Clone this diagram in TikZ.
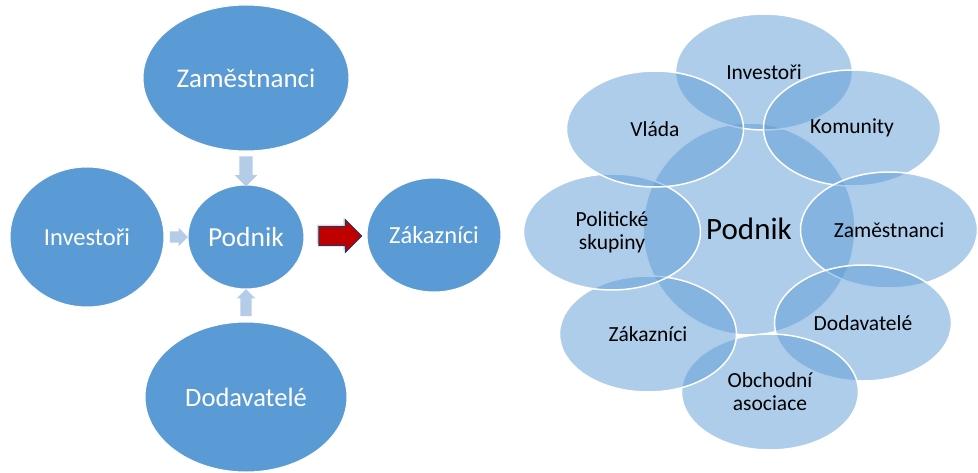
\documentclass[tikz,border=0pt]{standalone}
\usepackage{fontspec}
\setmainfont{Carlito}
\usepackage{tikz}
\usetikzlibrary{shapes.geometric,shapes.arrows,shadows,calc}
\definecolor{officeblue}{HTML}{5B9BD5}
\definecolor{paleblue}{HTML}{B4CCE8}
\definecolor{arrowred}{HTML}{C00000}
\definecolor{arrownavy}{HTML}{1F3864}
\tikzstyle{bubble}=[ellipse,fill=officeblue,draw=white,line width=1pt,inner sep=0pt,text=white]
\tikzstyle{petal}=[ellipse,fill=officeblue,fill opacity=0.5,text opacity=1,draw=white,line width=1.5pt,inner sep=0pt,minimum width=177pt,minimum height=116pt,text=black,align=center,font=\fontsize{21.5}{23}\selectfont]
\tikzstyle{core}=[petal,circle,minimum size=212pt,font=\fontsize{31}{36}\selectfont]
\tikzstyle{flow}=[single arrow,fill=paleblue,inner xsep=0pt]
\tikzstyle{push}=[single arrow,fill=arrowred,draw=arrownavy,line width=1pt,inner xsep=0pt,drop shadow={shadow xshift=-2pt,shadow yshift=2pt,opacity=0.3}]

\begin{document}
\begin{tikzpicture}[x=1pt,y=-1pt]
    \useasboundingbox (0,0) rectangle (978,472);
    % Left: the firm and the groups around it
    % First we draw the ellipses
    \foreach \pos/\name/\text/\w/\h/\fs in {{(246,78)/zam/Zaměstnanci/206/146/27}, {(87,237)/inv/Investoři/154/140/24.5},
        {(246,237)/pod/Podnik/116/104/27.5}, {(434,235)/zak/Zákazníci/134/114/24.5}, {(246,397)/dod/Dodavatelé/202/150/26.5}}
        \node[bubble,minimum width=\w pt,minimum height=\h pt,font=\fontsize{\fs}{30}\selectfont] (\name) at \pos {\text};

    % Then the block arrows between them
    \node[flow,rotate=-90,minimum height=30pt,inner ysep=6.5pt,single arrow head extend=4.5pt] (zam-pod) at ($(zam.south)!0.5!(pod.north)$) {};
    \node[flow,minimum height=18pt,inner ysep=5.5pt,single arrow head extend=3.5pt] (inv-pod) at ($(inv.east)!0.5!(pod.west)$) {};
    \node[flow,rotate=90,minimum height=27pt,inner ysep=5.5pt,single arrow head extend=3.5pt] (dod-pod) at ($(dod.north)!0.5!(pod.south)$) {};
    \node[push,minimum height=43pt,inner ysep=9pt,single arrow head extend=7pt] (pod-zak) at ($(pod.east)!0.5!(zak.west)$) {};

    % Right: the firm in the middle, the groups drawn clockwise over it
    \node[core] (podR) at (749,229) {Podnik};
    \foreach \pos/\name/\text in {{(764,72)/invR/Investoři}, {(852,128)/komR/Komunity}, {(889,230)/zamR/Zaměstnanci},
        {(863,323)/dodR/Dodavatelé}, {(770,392)/obcR/{Obchodní\\asociace}}, {(648,334)/zakR/Zákazníci},
        {(612,232)/polR/{Politické\\skupiny}}, {(655,129)/vlaR/Vláda}}
        \node[petal] (\name) at \pos {\text};
\end{tikzpicture}
\end{document}
